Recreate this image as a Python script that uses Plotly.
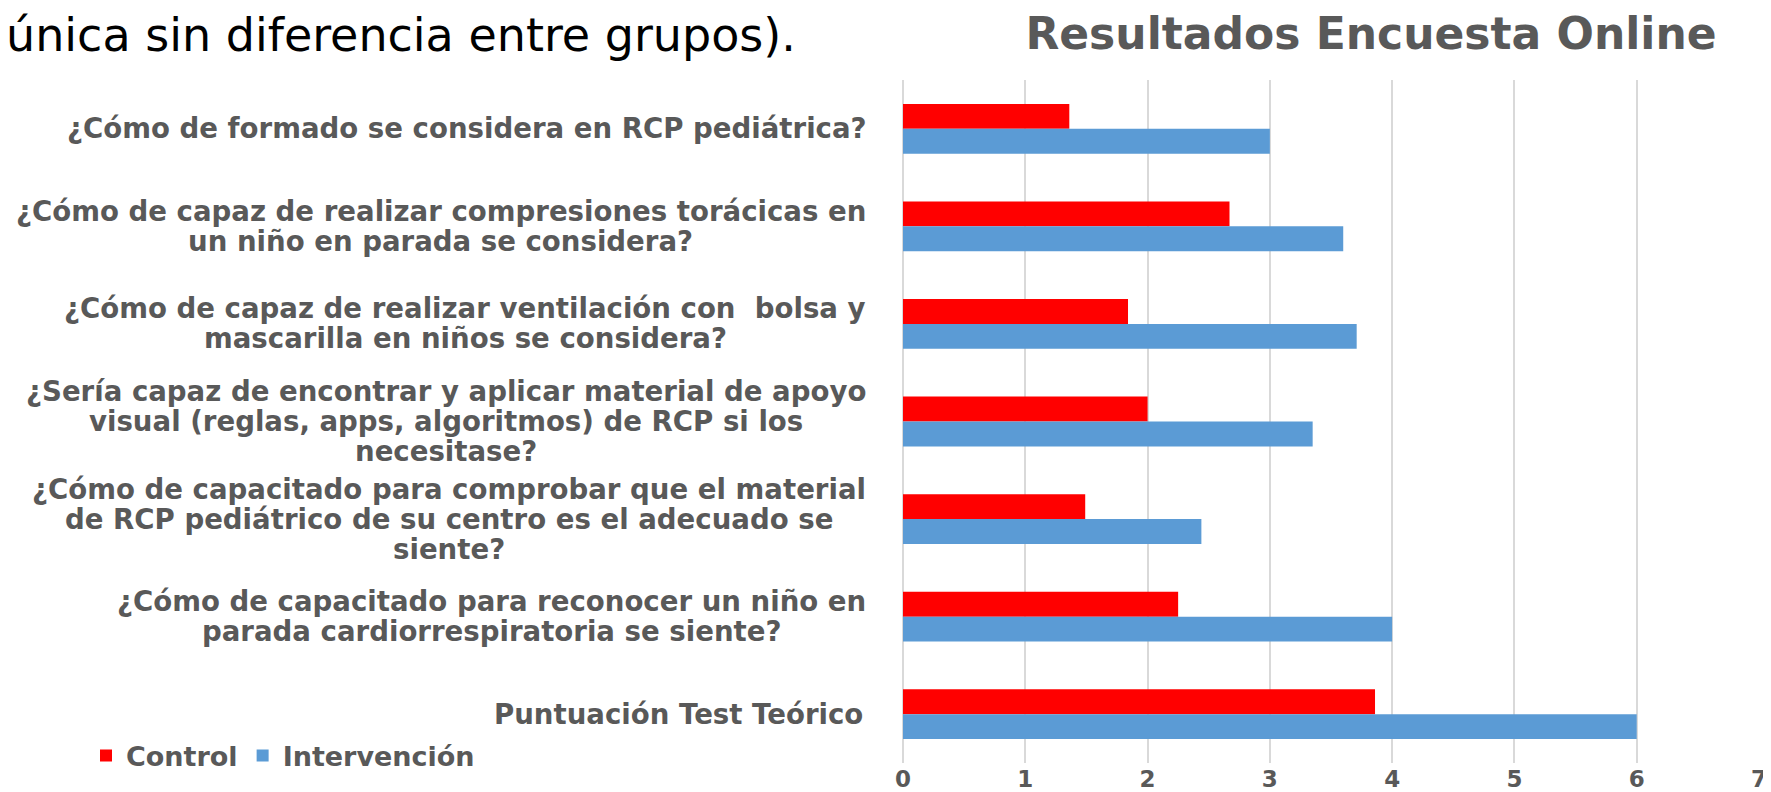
import plotly.graph_objects as go

categories = [
    "¿Cómo de formado se considera en RCP pediátrica?",
    "¿Cómo de capaz de realizar compresiones torácicas en<br>un niño en parada se considera?",
    "¿Cómo de capaz de realizar ventilación con  bolsa y<br>mascarilla en niños se considera?",
    "¿Sería capaz de encontrar y aplicar material de apoyo<br>visual (reglas, apps, algoritmos) de RCP si los<br>necesitase?",
    "¿Cómo de capacitado para comprobar que el material<br>de RCP pediátrico de su centro es el adecuado se<br>siente?",
    "¿Cómo de capacitado para reconocer un niño en<br>parada cardiorrespiratoria se siente?",
    "Puntuación Test Teórico",
]
cat_ids = ["q1", "q2", "q3", "q4", "q5", "q6", "test"]
control = [1.36, 2.67, 1.84, 2.00, 1.49, 2.25, 3.86]
intervencion = [3.00, 3.60, 3.71, 3.35, 2.44, 4.00, 6.00]
x_ticks = [0, 1, 2, 3, 4, 5, 6, 7]

title_text = "Resultados Encuesta Online"
side_text = "única sin diferencia entre grupos)."

W, H = 1771, 792
ML, MR, MT, MB = 895, 20, 72, 37
PW, PH = W - ML - MR, H - MT - MB

def paper_x(px):
    return (px - ML) / PW

def paper_y(py):
    return (H - MB - py) / PH

GRAY = "#595959"
BOLD = "DejaVu Sans"
LABEL_SIZE = 27.6
LINE_STEP = 30
LABEL_RIGHT = 858

# approximate advance widths (em) of DejaVu Sans Bold, used to center wrapped lines
_W = {" ": .348, "a": .675, "b": .716, "c": .593, "d": .716, "e": .678, "f": .435,
      "g": .716, "h": .712, "i": .343, "l": .343, "m": 1.042, "n": .712, "o": .687,
      "p": .716, "q": .716, "r": .493, "s": .595, "t": .478, "u": .712, "v": .652,
      "y": .652, "z": .582, "(": .457, ")": .457, ",": .380, "?": .579, "¿": .579,
      "C": .733, "P": .686, "R": .770, "S": .723, "T": .682, "á": .675, "é": .678,
      "í": .343, "ó": .687, "ú": .712, "ñ": .712}

def text_w(s):
    return sum(_W.get(ch, .65) for ch in s) * LABEL_SIZE

fig = go.Figure()
fig.add_trace(go.Bar(y=cat_ids, x=control, name="Control", orientation="h",
                     marker=dict(color="#FF0000", line=dict(width=0))))
fig.add_trace(go.Bar(y=cat_ids, x=intervencion, name="Intervención", orientation="h",
                     marker=dict(color="#5B9BD5", line=dict(width=0))))

annotations = []
for cid, lab in zip(cat_ids, categories):
    lines = lab.split("<br>")
    maxw = max(text_w(l) for l in lines)
    cx = LABEL_RIGHT - maxw / 2
    n = len(lines)
    for i, line in enumerate(lines):
        annotations.append(dict(
            xref="paper", yref="y", x=paper_x(cx), y=cid,
            yshift=-(i - (n - 1) / 2) * LINE_STEP,
            text=line, showarrow=False, xanchor="center", yanchor="middle",
            font=dict(family=BOLD, size=LABEL_SIZE, color=GRAY, weight="bold"),
        ))

annotations.append(dict(
    xref="paper", yref="paper", x=paper_x(-4), y=paper_y(27),
    text=side_text, showarrow=False, xanchor="left", yanchor="middle",
    font=dict(family="DejaVu Sans", size=46, color="#000000"),
))

fig.update_layout(
    width=W, height=H,
    margin=dict(l=ML, r=MR, t=MT, b=MB, autoexpand=False),
    paper_bgcolor="white", plot_bgcolor="white",
    barmode="group", bargap=0.49, bargroupgap=0,
    title=dict(text=title_text, xref="container", yref="container",
               x=1363 / W, y=1 - 26 / H, xanchor="center", yanchor="middle",
               font=dict(family=BOLD, size=44, color=GRAY, weight="bold")),
    xaxis=dict(range=[0, 7], tickvals=x_ticks, showgrid=True, gridcolor="#D9D9D9",
               gridwidth=1.5, zeroline=True, zerolinecolor="#D9D9D9", zerolinewidth=1.5,
               showline=False, ticks="", ticklabelstandoff=0,
               tickfont=dict(family=BOLD, size=23, color=GRAY, weight="bold")),
    yaxis=dict(autorange="reversed", showticklabels=False, showgrid=False,
               zeroline=False, showline=False, ticks=""),
    legend=dict(orientation="h", xref="container", yref="container",
                x=78 / W, y=(H - 748) / H, xanchor="left", yanchor="middle",
                font=dict(family=BOLD, size=27, color=GRAY, weight="bold"),
                bgcolor="rgba(0,0,0,0)", itemclick=False),
    annotations=annotations,
    showlegend=True,
)

fig.write_html("out.html")
